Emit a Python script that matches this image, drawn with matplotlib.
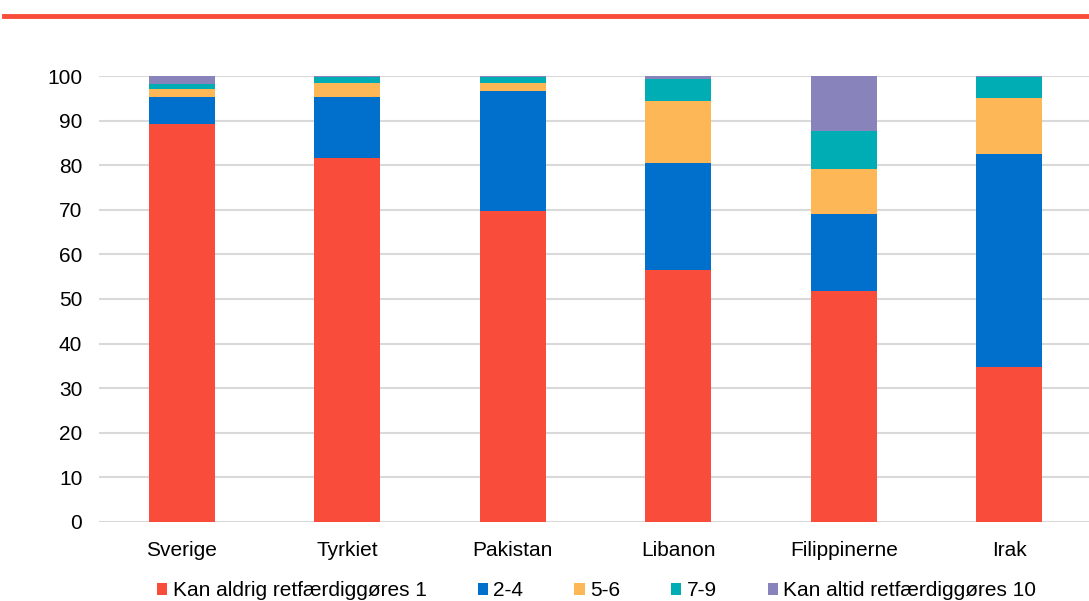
import numpy as np
import matplotlib.pyplot as plt
from matplotlib.patches import Patch

plt.rcParams['font.family'] = ['Liberation Sans', 'DejaVu Sans']

countries = ["Sverige", "Tyrkiet", "Pakistan", "Libanon", "Filippinerne", "Irak"]
series_names = ["Kan aldrig retfærdiggøres 1", "2-4", "5-6", "7-9", "Kan altid retfærdiggøres 10"]
never_1 = [89.2, 81.6, 69.7, 56.5, 51.8, 34.8]
val_2_4 = [6.2, 13.8, 26.9, 24.1, 17.3, 47.8]
val_5_6 = [1.7, 3.0, 1.9, 13.9, 10.1, 12.5]
val_7_9 = [1.0, 1.4, 1.3, 4.8, 8.5, 4.7]
always_10 = [1.9, 0.2, 0.2, 0.7, 12.3, 0.2]
yticks = [0, 10, 20, 30, 40, 50, 60, 70, 80, 90, 100]

colors = ["#F94C3A", "#0070CC", "#FDB757", "#00ADB5", "#8883BA"]
series = [never_1, val_2_4, val_5_6, val_7_9, always_10]

fig = plt.figure(figsize=(10.89, 6.01), dpi=100)
ax = fig.add_axes([0.0909, 0.1315, 0.912, 0.742])

x = np.arange(len(countries))
bottom = np.zeros(len(countries))
for vals, col in zip(series, colors):
    ax.bar(x, vals, width=0.4, bottom=bottom, color=col, zorder=3)
    bottom += np.array(vals)

ax.set_ylim(0, 100)
ax.set_xlim(-0.5, len(countries) - 0.5)
ax.set_yticks(yticks)
ax.set_xticks(x)
ax.set_xticklabels(countries)
ax.tick_params(axis='both', length=0, labelsize=15, colors='black')
ax.tick_params(axis='x', pad=14)
ax.tick_params(axis='y', pad=12)
ax.grid(axis='y', color='#D9D9D9', linewidth=1.5, zorder=0)
for s in ax.spines.values():
    s.set_visible(False)

# red line at top of figure
fig.add_artist(plt.Line2D([0.004, 1.0], [0.974, 0.974], color="#F94C3A", linewidth=3.5,
                          transform=fig.transFigure))

handles = [Patch(facecolor=c, edgecolor='none') for c in colors]
fig.legend(handles, series_names, loc='center', bbox_to_anchor=(0.548, 0.017), ncol=5,
           frameon=False, fontsize=15, handlelength=0.5, handleheight=0.5,
           handletextpad=0.25, columnspacing=2.45)

fig.savefig("out.png", dpi=100)
